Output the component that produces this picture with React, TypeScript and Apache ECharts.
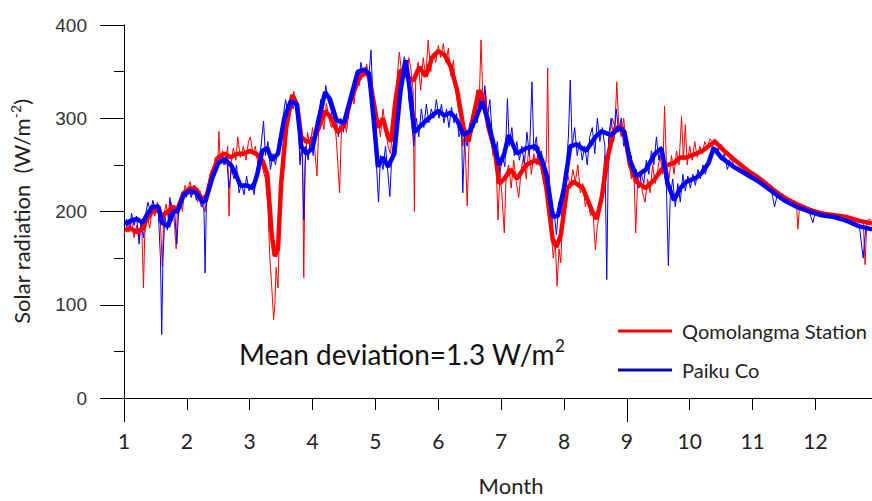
import React, { useEffect, useRef } from "react";
import * as echarts from "echarts";

// Month ticks
const monthTicks = [1, 2, 3, 4, 5, 6, 7, 8, 9, 10, 11, 12];
const longTicks = [1, 9];
const yTicks = [0, 100, 200, 300, 400];

// Daily values (month position, W/m2) — Qomolangma Station
const qomoDaily: [number, number][] = [
  [1.0, 175], [1.04, 185], [1.08, 178], [1.12, 190], [1.16, 172], [1.2, 185], [1.24, 170], [1.28, 188], [1.31, 118], [1.33, 175],
  [1.37, 195], [1.41, 182], [1.45, 205], [1.49, 195], [1.53, 210], [1.57, 200], [1.61, 141], [1.63, 195], [1.67, 208], [1.71, 190],
  [1.75, 210], [1.79, 198], [1.83, 160], [1.85, 205], [1.89, 212], [1.93, 200], [1.97, 228], [2.01, 222], [2.05, 232], [2.09, 218],
  [2.13, 228], [2.17, 210], [2.21, 222], [2.25, 205], [2.29, 200], [2.33, 225], [2.37, 240], [2.41, 232], [2.45, 258], [2.49, 250],
  [2.51, 286], [2.53, 255], [2.57, 265], [2.61, 250], [2.65, 270], [2.67, 195], [2.7, 250], [2.74, 268], [2.78, 255], [2.81, 280],
  [2.85, 258], [2.9, 270], [2.94, 255], [2.98, 275], [3.01, 280], [3.05, 262], [3.09, 270], [3.13, 250], [3.17, 262], [3.21, 245],
  [3.25, 235], [3.29, 205], [3.32, 150], [3.35, 120], [3.38, 84], [3.4, 100], [3.42, 140], [3.45, 118], [3.48, 200], [3.51, 250],
  [3.55, 280], [3.59, 300], [3.63, 320], [3.67, 310], [3.7, 329], [3.73, 315], [3.77, 300], [3.8, 255], [3.84, 270], [3.86, 129],
  [3.88, 250], [3.92, 285], [3.96, 270], [4.0, 290], [4.04, 262], [4.07, 238], [4.1, 295], [4.14, 305], [4.18, 288], [4.22, 316],
  [4.26, 300], [4.3, 290], [4.34, 305], [4.38, 275], [4.43, 220], [4.46, 290], [4.5, 300], [4.54, 285], [4.58, 310], [4.62, 325],
  [4.66, 315], [4.7, 345], [4.74, 335], [4.78, 352], [4.82, 345], [4.86, 358], [4.9, 340], [4.94, 330], [4.98, 300], [5.01, 285],
  [5.04, 300], [5.08, 280], [5.12, 310], [5.16, 290], [5.2, 270], [5.24, 262], [5.27, 285], [5.3, 310], [5.34, 340], [5.38, 371],
  [5.42, 345], [5.46, 360], [5.5, 340], [5.53, 365], [5.56, 355], [5.6, 330], [5.62, 200], [5.64, 340], [5.68, 360], [5.72, 330],
  [5.76, 365], [5.8, 345], [5.84, 384], [5.88, 350], [5.92, 370], [5.96, 360], [6.0, 378], [6.04, 365], [6.08, 380], [6.12, 360],
  [6.16, 375], [6.2, 345], [6.24, 362], [6.28, 330], [6.32, 310], [6.36, 300], [6.39, 270], [6.42, 285], [6.46, 206], [6.49, 275],
  [6.53, 300], [6.57, 290], [6.61, 330], [6.65, 315], [6.68, 384], [6.71, 320], [6.75, 330], [6.79, 295], [6.83, 280], [6.87, 260],
  [6.91, 270], [6.95, 191], [6.98, 240], [7.01, 220], [7.05, 177], [7.08, 240], [7.12, 250], [7.16, 225], [7.2, 255], [7.24, 232],
  [7.28, 215], [7.32, 245], [7.36, 260], [7.4, 235], [7.44, 270], [7.48, 240], [7.52, 262], [7.56, 250], [7.6, 270], [7.64, 245],
  [7.68, 230], [7.72, 260], [7.74, 354], [7.76, 250], [7.8, 175], [7.83, 150], [7.86, 170], [7.89, 120], [7.92, 160], [7.95, 145],
  [7.98, 200], [8.02, 220], [8.06, 240], [8.1, 225], [8.14, 245], [8.18, 232], [8.22, 250], [8.26, 220], [8.3, 230], [8.34, 205],
  [8.38, 215], [8.42, 195], [8.46, 200], [8.5, 159], [8.53, 185], [8.57, 200], [8.61, 230], [8.65, 260], [8.69, 250], [8.73, 285],
  [8.77, 300], [8.81, 290], [8.84, 339], [8.87, 295], [8.91, 280], [8.95, 300], [8.99, 270], [9.03, 260], [9.07, 235], [9.11, 250],
  [9.14, 177], [9.17, 230], [9.21, 240], [9.25, 220], [9.29, 210], [9.33, 235], [9.37, 220], [9.41, 250], [9.45, 230], [9.49, 245],
  [9.53, 260], [9.57, 240], [9.6, 313], [9.63, 250], [9.67, 235], [9.71, 260], [9.75, 240], [9.79, 265], [9.83, 250], [9.87, 302],
  [9.9, 255], [9.93, 293], [9.96, 250], [10.0, 270], [10.04, 255], [10.08, 275], [10.12, 258], [10.16, 270], [10.2, 262], [10.24, 275],
  [10.28, 268], [10.32, 278], [10.36, 275], [10.4, 278], [10.45, 270], [10.5, 272], [10.6, 262], [10.7, 258], [10.8, 250], [10.9, 248],
  [11.0, 240], [11.1, 238], [11.2, 230], [11.3, 228], [11.4, 220], [11.5, 218], [11.6, 210], [11.7, 208], [11.72, 181], [11.75, 207],
  [11.8, 205], [11.9, 203], [12.0, 200], [12.1, 200], [12.2, 197], [12.3, 197], [12.4, 195], [12.5, 195], [12.6, 193], [12.7, 192],
  [12.76, 190], [12.79, 143], [12.82, 190], [12.86, 192], [12.9, 188],
];

// Daily values — Paiku Co
const paikuDaily: [number, number][] = [
  [1.0, 185], [1.04, 192], [1.08, 180], [1.12, 198], [1.16, 185], [1.2, 195], [1.24, 165], [1.27, 190], [1.31, 172], [1.34, 195],
  [1.38, 210], [1.42, 200], [1.46, 212], [1.5, 198], [1.54, 208], [1.58, 150], [1.6, 68], [1.62, 150], [1.65, 195], [1.69, 180],
  [1.73, 215], [1.77, 190], [1.8, 205], [1.84, 165], [1.87, 200], [1.91, 210], [1.95, 222], [1.99, 215], [2.03, 225], [2.07, 215],
  [2.11, 228], [2.15, 212], [2.19, 220], [2.23, 205], [2.27, 212], [2.29, 134], [2.31, 205], [2.35, 230], [2.39, 245], [2.43, 240],
  [2.47, 255], [2.51, 250], [2.55, 262], [2.59, 250], [2.63, 262], [2.67, 225], [2.71, 245], [2.75, 235], [2.79, 250], [2.83, 220],
  [2.87, 230], [2.91, 218], [2.95, 238], [2.99, 222], [3.03, 230], [3.07, 218], [3.1, 240], [3.14, 255], [3.18, 270], [3.22, 297],
  [3.25, 260], [3.29, 275], [3.33, 245], [3.37, 262], [3.41, 250], [3.45, 270], [3.49, 285], [3.53, 300], [3.57, 320], [3.61, 305],
  [3.65, 325], [3.69, 310], [3.73, 320], [3.77, 300], [3.8, 250], [3.83, 275], [3.86, 191], [3.89, 270], [3.93, 255], [3.97, 280],
  [4.01, 260], [4.05, 285], [4.09, 300], [4.13, 320], [4.17, 310], [4.21, 335], [4.25, 318], [4.29, 310], [4.33, 290], [4.37, 305],
  [4.41, 280], [4.45, 300], [4.49, 285], [4.53, 310], [4.57, 300], [4.61, 330], [4.65, 320], [4.69, 345], [4.73, 335], [4.77, 360],
  [4.81, 345], [4.85, 355], [4.89, 340], [4.93, 373], [4.96, 320], [4.99, 270], [5.02, 245], [5.05, 210], [5.08, 260], [5.12, 245],
  [5.16, 270], [5.2, 240], [5.23, 216], [5.26, 260], [5.3, 280], [5.34, 310], [5.38, 340], [5.42, 350], [5.46, 366], [5.5, 355],
  [5.53, 320], [5.57, 300], [5.61, 270], [5.65, 300], [5.69, 280], [5.73, 310], [5.77, 290], [5.81, 315], [5.85, 295], [5.89, 310],
  [5.93, 300], [5.97, 320], [6.01, 300], [6.05, 315], [6.09, 295], [6.13, 310], [6.17, 290], [6.21, 312], [6.25, 295], [6.29, 305],
  [6.33, 280], [6.37, 290], [6.39, 220], [6.42, 280], [6.46, 270], [6.5, 295], [6.54, 285], [6.58, 305], [6.62, 295], [6.66, 325],
  [6.7, 310], [6.74, 335], [6.78, 300], [6.82, 320], [6.86, 280], [6.9, 260], [6.94, 275], [6.98, 240], [7.02, 260], [7.06, 248],
  [7.1, 321], [7.13, 270], [7.17, 290], [7.21, 260], [7.25, 275], [7.29, 255], [7.33, 270], [7.37, 250], [7.41, 285], [7.45, 260],
  [7.49, 339], [7.52, 265], [7.56, 280], [7.6, 250], [7.64, 265], [7.68, 240], [7.72, 225], [7.76, 205], [7.8, 180], [7.84, 200],
  [7.88, 175], [7.92, 210], [7.96, 195], [8.0, 230], [8.04, 250], [8.07, 280], [8.1, 341], [8.13, 270], [8.17, 290], [8.21, 260],
  [8.25, 275], [8.29, 255], [8.33, 270], [8.37, 250], [8.41, 280], [8.45, 290], [8.49, 262], [8.53, 300], [8.57, 275], [8.61, 290],
  [8.65, 270], [8.68, 127], [8.71, 280], [8.75, 300], [8.79, 275], [8.83, 310], [8.87, 285], [8.91, 300], [8.95, 270], [8.99, 275],
  [9.03, 250], [9.07, 260], [9.11, 235], [9.15, 245], [9.19, 225], [9.23, 240], [9.27, 230], [9.31, 255], [9.35, 240], [9.39, 265],
  [9.43, 250], [9.47, 280], [9.51, 255], [9.55, 270], [9.59, 245], [9.63, 225], [9.66, 142], [9.69, 215], [9.73, 235], [9.77, 205],
  [9.81, 230], [9.85, 210], [9.89, 240], [9.93, 222], [9.97, 238], [10.01, 225], [10.05, 240], [10.09, 228], [10.13, 245], [10.17, 235],
  [10.21, 250], [10.25, 240], [10.29, 255], [10.33, 262], [10.37, 270], [10.41, 262], [10.45, 268], [10.5, 255], [10.55, 262], [10.6, 245],
  [10.65, 258], [10.7, 250], [10.8, 245], [10.9, 240], [11.0, 235], [11.1, 232], [11.2, 225], [11.3, 222], [11.35, 205], [11.4, 220],
  [11.5, 212], [11.6, 208], [11.7, 205], [11.8, 202], [11.9, 200], [11.96, 188], [12.0, 200], [12.1, 197], [12.2, 195], [12.3, 193],
  [12.4, 192], [12.5, 190], [12.6, 187], [12.7, 184], [12.76, 150], [12.8, 182], [12.9, 180],
];

// Smoothed values — Qomolangma Station
const qomoSmooth: [number, number][] = [
  [1.02, 180], [1.1, 182], [1.2, 178], [1.3, 182], [1.35, 190], [1.45, 200], [1.55, 202], [1.6, 195], [1.7, 200], [1.78, 205],
  [1.85, 202], [1.95, 220], [2.05, 225], [2.15, 224], [2.25, 212], [2.32, 218], [2.4, 240], [2.5, 258], [2.6, 262], [2.7, 258],
  [2.8, 262], [2.9, 262], [3.0, 265], [3.1, 262], [3.2, 255], [3.28, 240], [3.35, 175], [3.4, 152], [3.45, 160], [3.5, 230],
  [3.58, 290], [3.68, 325], [3.75, 315], [3.82, 280], [3.9, 275], [4.0, 275], [4.1, 290], [4.2, 308], [4.3, 300], [4.4, 285],
  [4.5, 292], [4.6, 318], [4.72, 340], [4.82, 350], [4.9, 345], [4.97, 318], [5.04, 290], [5.12, 300], [5.2, 280], [5.25, 275],
  [5.32, 320], [5.4, 352], [5.5, 345], [5.6, 340], [5.7, 355], [5.8, 345], [5.9, 365], [6.0, 372], [6.1, 368], [6.2, 355],
  [6.3, 330], [6.4, 290], [6.48, 275], [6.55, 300], [6.65, 330], [6.72, 320], [6.8, 290], [6.9, 265], [6.97, 230], [7.05, 235],
  [7.15, 245], [7.25, 235], [7.4, 250], [7.55, 255], [7.65, 250], [7.72, 225], [7.82, 170], [7.88, 162], [7.95, 175], [8.05, 225],
  [8.15, 232], [8.3, 225], [8.45, 200], [8.52, 192], [8.6, 215], [8.7, 260], [8.8, 288], [8.9, 292], [8.96, 285], [9.05, 250],
  [9.15, 232], [9.3, 225], [9.45, 235], [9.55, 245], [9.65, 250], [9.75, 252], [9.85, 258], [9.95, 258], [10.1, 262], [10.2, 265],
  [10.3, 270], [10.4, 275], [10.5, 268], [10.7, 256], [10.9, 245], [11.1, 236], [11.3, 225], [11.5, 215], [11.7, 208], [11.9, 202],
  [12.1, 198], [12.3, 196], [12.5, 194], [12.7, 190], [12.9, 187],
];

// Smoothed values — Paiku Co
const paikuSmooth: [number, number][] = [
  [1.02, 186], [1.1, 190], [1.2, 192], [1.3, 188], [1.35, 195], [1.45, 205], [1.55, 205], [1.6, 188], [1.7, 184], [1.78, 200],
  [1.85, 200], [1.95, 218], [2.05, 222], [2.15, 220], [2.25, 210], [2.3, 212], [2.4, 235], [2.5, 252], [2.6, 256], [2.7, 250],
  [2.78, 240], [2.85, 228], [2.95, 228], [3.05, 225], [3.12, 240], [3.2, 265], [3.28, 268], [3.35, 255], [3.45, 262], [3.55, 300],
  [3.65, 318], [3.75, 315], [3.82, 270], [3.9, 262], [4.0, 268], [4.1, 300], [4.2, 328], [4.28, 320], [4.38, 298], [4.5, 295],
  [4.6, 320], [4.72, 350], [4.82, 352], [4.9, 348], [4.97, 300], [5.04, 248], [5.12, 258], [5.2, 248], [5.3, 262], [5.4, 330],
  [5.48, 362], [5.55, 330], [5.62, 285], [5.72, 292], [5.85, 300], [6.0, 308], [6.1, 303], [6.2, 306], [6.3, 298], [6.4, 282],
  [6.5, 286], [6.6, 300], [6.7, 318], [6.78, 300], [6.88, 272], [6.97, 250], [7.05, 262], [7.12, 282], [7.25, 262], [7.4, 268],
  [7.55, 270], [7.65, 255], [7.72, 240], [7.82, 195], [7.9, 195], [8.0, 225], [8.1, 270], [8.2, 272], [8.35, 265], [8.5, 280],
  [8.6, 286], [8.75, 282], [8.88, 290], [8.96, 285], [9.05, 255], [9.15, 238], [9.3, 245], [9.45, 262], [9.55, 268], [9.65, 230],
  [9.75, 212], [9.85, 225], [9.95, 232], [10.1, 236], [10.2, 242], [10.3, 252], [10.38, 268], [10.5, 258], [10.7, 248], [10.9, 240],
  [11.1, 232], [11.3, 222], [11.5, 212], [11.7, 205], [11.9, 200], [12.1, 196], [12.3, 194], [12.5, 190], [12.7, 184], [12.9, 181],
];

const seriesNames = ["Qomolangma Station", "Paiku Co"];

export default function App() {
  const ref = useRef<HTMLDivElement>(null);

  useEffect(() => {
    if (!ref.current) return;
    const chart = echarts.init(ref.current, undefined, { renderer: "svg" });
    const sansLabel = "Lato, 'Open Sans', sans-serif";
    const arial = "'Liberation Sans', Arial, sans-serif";
    chart.setOption({
      animation: false,
      backgroundColor: "#ffffff",
      grid: { left: 123, right: 0, top: 25, bottom: 102, containLabel: false },
      xAxis: [
        {
          type: "value",
          min: 1,
          max: 12.9,
          name: "Month",
          nameLocation: "middle",
          nameGap: 76,
          nameTextStyle: { fontFamily: sansLabel, fontSize: 22, color: "#222", padding: [0, 0, 0, 26] },
          axisLine: { show: true, lineStyle: { color: "#000", width: 1 } },
          axisTick: { show: true, length: 12, lineStyle: { color: "#000" }, customValues: monthTicks },
          axisLabel: {
            show: true,
            margin: 32,
            fontFamily: sansLabel,
            fontSize: 21,
            color: "#222",
            customValues: monthTicks,
          },
          splitLine: { show: false },
        },
        {
          type: "value",
          min: 1,
          max: 12.9,
          position: "bottom",
          axisLine: { show: false },
          axisTick: { show: true, length: 24, lineStyle: { color: "#000" }, customValues: longTicks },
          axisLabel: { show: false },
          splitLine: { show: false },
        },
      ],
      yAxis: {
        type: "value",
        min: 0,
        max: 400,
        interval: 100,
        name: "{n|Solar radiation  (W/m}{s|-2}{n|)}",
        nameLocation: "middle",
        nameGap: 90,
        nameTextStyle: {
          rich: {
            n: { fontFamily: sansLabel, fontSize: 22, color: "#222", lineHeight: 26 },
            s: { fontFamily: sansLabel, fontSize: 14, color: "#222", verticalAlign: "top", lineHeight: 26 },
          },
        },
        axisLine: { show: true, lineStyle: { color: "#000", width: 1 } },
        axisTick: { show: true, length: 24, lineStyle: { color: "#000" }, customValues: yTicks },
        minorTick: { show: true, splitNumber: 2, length: 10, lineStyle: { color: "#000" } },
        axisLabel: { margin: 37, fontFamily: arial, fontSize: 19, color: "#333" },
        splitLine: { show: false },
        minorSplitLine: { show: false },
      },
      series: [
        {
          name: seriesNames[0] + " daily",
          type: "line",
          data: qomoDaily,
          showSymbol: false,
          symbol: "none",
          lineStyle: { color: "#ff0000", width: 1 },
          z: 2,
        },
        {
          name: seriesNames[1] + " daily",
          type: "line",
          data: paikuDaily,
          showSymbol: false,
          symbol: "none",
          lineStyle: { color: "#0000ff", width: 1 },
          z: 3,
        },
        {
          name: seriesNames[0],
          type: "line",
          data: qomoSmooth,
          showSymbol: false,
          symbol: "none",
          lineStyle: { color: "#ff0000", width: 4.5 },
          z: 4,
        },
        {
          name: seriesNames[1],
          type: "line",
          data: paikuSmooth,
          showSymbol: false,
          symbol: "none",
          lineStyle: { color: "#0000ff", width: 4.5 },
          z: 5,
        },
      ],
      graphic: [
        {
          type: "text",
          left: 239,
          top: 337,
          z: 10,
          style: {
            text: "{n|Mean deviation=1.3 W/m}{s|2}",
            rich: {
              n: { fontFamily: sansLabel, fontSize: 28, fill: "#111", lineHeight: 34 },
              s: { fontFamily: sansLabel, fontSize: 17, fill: "#111", verticalAlign: "top", lineHeight: 34 },
            },
          },
        },
        {
          type: "line",
          z: 10,
          shape: { x1: 618, y1: 331, x2: 672, y2: 331 },
          style: { stroke: "#ff0000", lineWidth: 3 },
        },
        {
          type: "text",
          x: 682,
          y: 331,
          z: 10,
          style: { text: seriesNames[0], fontFamily: sansLabel, fontSize: 20, fill: "#222", verticalAlign: "middle" },
        },
        {
          type: "line",
          z: 10,
          shape: { x1: 618, y1: 370, x2: 672, y2: 370 },
          style: { stroke: "#0c0c9c", lineWidth: 3 },
        },
        {
          type: "text",
          x: 682,
          y: 370,
          z: 10,
          style: { text: seriesNames[1], fontFamily: sansLabel, fontSize: 20, fill: "#222", verticalAlign: "middle" },
        },
      ],
    });
    return () => chart.dispose();
  }, []);

  return (
    <div
      ref={ref}
      style={{ position: "fixed", left: 0, top: 0, width: 872, height: 501, background: "#fff" }}
    />
  );
}
